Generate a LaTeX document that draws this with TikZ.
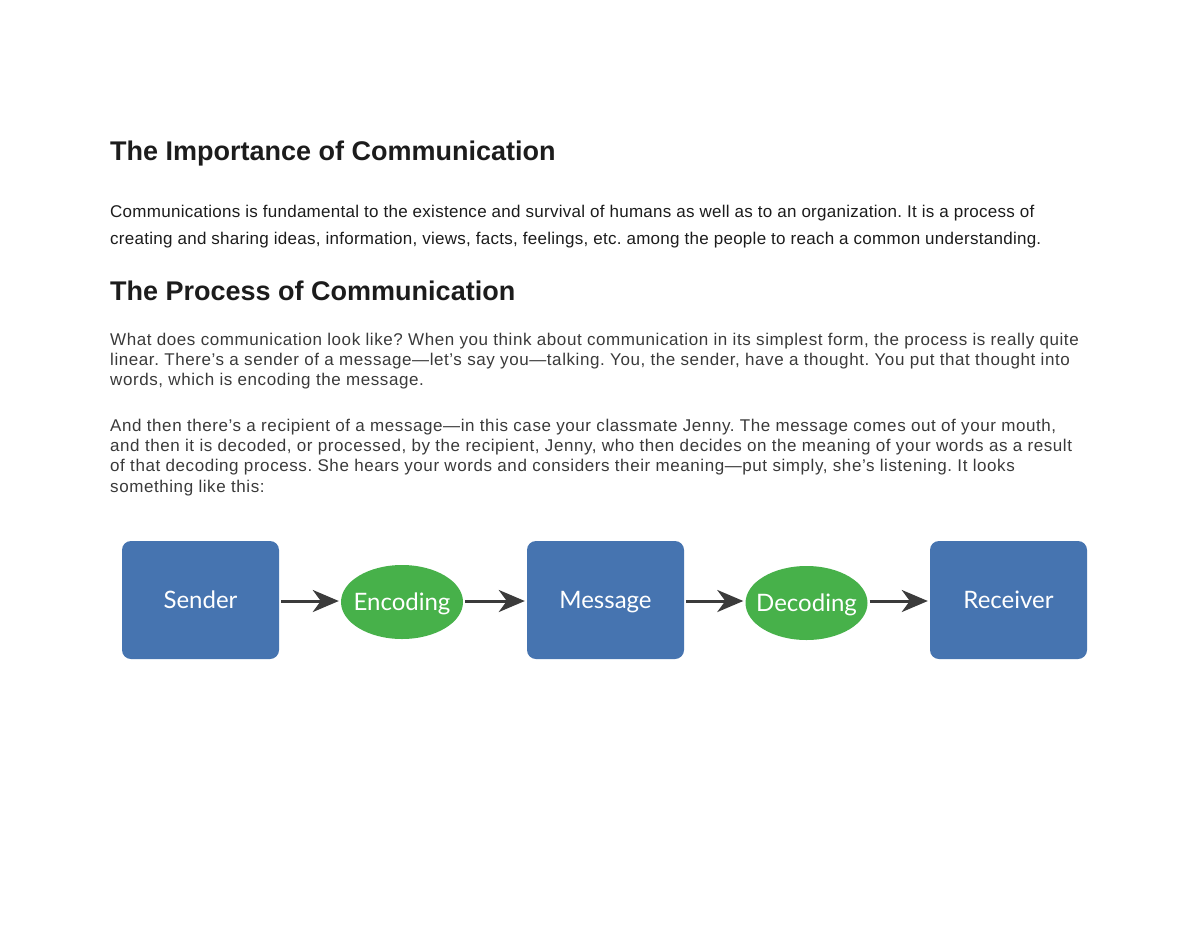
\documentclass[tikz,border=0pt]{standalone}
\usepackage{fontspec}
\setmainfont{Liberation Sans}
\newfontfamily\stageFont{Lato}
\usetikzlibrary{arrows.meta,shapes.geometric}
\frenchspacing

\definecolor{stageBlue}{HTML}{4674B0}
\definecolor{codeGreen}{HTML}{47B14A}
\definecolor{arrowGray}{HTML}{3B3B3B}
\definecolor{inkDark}{HTML}{1C1C1C}
\definecolor{inkGray}{HTML}{3A3A3A}

\def \headSize {\fontsize{27}{32}\selectfont\bfseries}
\def \bodySize {\fontsize{17}{20}\selectfont}
\def \stageSize {\fontsize{24}{28}\selectfont}

\tikzset{
  heading/.style={anchor=base west, inner sep=0pt, text=inkDark, font=\headSize},
  bodyline/.style 2 args={anchor=base west, inner sep=0pt, text=#1,
    font=\bodySize\addfontfeature{LetterSpace=#2}},
  stage/.style={rectangle, rounded corners=9pt, fill=stageBlue, text=white,
    minimum width=157pt, minimum height=118pt, inner sep=0pt,
    font=\stageFont\stageSize, text height=17pt, text depth=0pt},
  coding/.style={ellipse, fill=codeGreen, text=white,
    minimum width=122pt, minimum height=74pt, inner sep=0pt,
    font=\stageFont\stageSize, text height=17pt, text depth=0pt},
  flow/.style={draw=arrowGray, line width=3pt,
    -{Stealth[length=26pt, width=22pt, inset=8pt, fill=arrowGray]},
    shorten <=2pt, shorten >=2pt}
}

\begin{document}
\begin{tikzpicture}[x=1pt, y=-1pt]
            \useasboundingbox (0, 0) rectangle (1200, 927);
            \fill[white] (0, 0) rectangle (1200, 927);

            % text
            \node[heading] (title1) at (110, 160.5) {The Importance of Communication};
            \node[bodyline={inkDark}{1.6}] (p1a) at (110, 217.5) {Communications is fundamental to the existence and survival of humans as well as to an organization. It is a process of};
            \node[bodyline={inkDark}{1.6}] (p1b) at (110, 244) {creating and sharing ideas, information, views, facts, feelings, etc. among the people to reach a common understanding.};
            \node[heading] (title2) at (110, 300.5) {The Process of Communication};
            \node[bodyline={inkGray}{3.4}] (p2a) at (110, 345) {What does communication look like? When you think about communication in its simplest form, the process is really quite};
            \node[bodyline={inkGray}{3.4}] (p2b) at (110, 365.5) {linear. There's a sender of a message—let's say you—talking. You, the sender, have a thought. You put that thought into};
            \node[bodyline={inkGray}{3.4}] (p2c) at (110, 385.5) {words, which is encoding the message.};
            \node[bodyline={inkGray}{3.4}] (p3a) at (110, 431.5) {And then there's a recipient of a message—in this case your classmate Jenny. The message comes out of your mouth,};
            \node[bodyline={inkGray}{3.4}] (p3b) at (110, 451.7) {and then it is decoded, or processed, by the recipient, Jenny, who then decides on the meaning of your words as a result};
            \node[bodyline={inkGray}{3.4}] (p3c) at (110, 471.7) {of that decoding process. She hears your words and considers their meaning—put simply, she's listening. It looks};
            \node[bodyline={inkGray}{3.4}] (p3d) at (110, 492) {something like this:};

            % process
            \node[stage] (sender) at (200.5, 600) {Sender};
            \node[coding] (encoding) at (402, 602) {\makebox[0pt]{Encoding}};
            \node[stage] (message) at (605.5, 600) {Message};
            \node[coding] (decoding) at (806.5, 603) {\makebox[0pt]{Decoding}};
            \node[stage] (receiver) at (1008.5, 600) {Receiver};

            \draw[flow] (sender.east |- 0, 601) -- (encoding.west |- 0, 601);
            \draw[flow] (encoding.east |- 0, 601) -- (message.west |- 0, 601);
            \draw[flow] (message.east |- 0, 601) -- (decoding.west |- 0, 601);
            \draw[flow] (decoding.east |- 0, 601) -- (receiver.west |- 0, 601);
         \end{tikzpicture}
\end{document}
